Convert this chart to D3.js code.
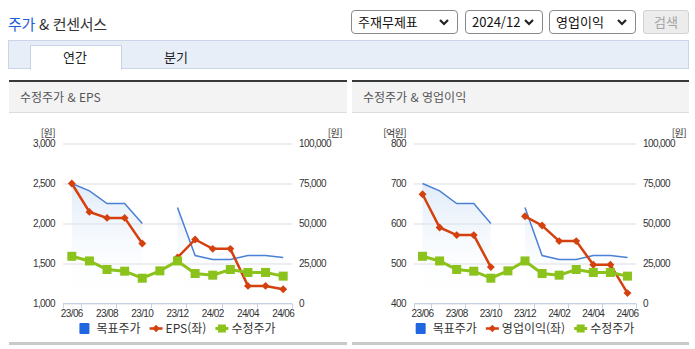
<!DOCTYPE html>
<html lang="ko">
<head>
<meta charset="utf-8">
<script src="https://cdn.jsdelivr.net/npm/d3@7"></script>
<style>
  html, body { margin: 0; padding: 0; background: #fff; }
  body { width: 695px; height: 349px; position: relative; overflow: hidden;
         font-family: "Noto Sans CJK KR", "Noto Sans", sans-serif; color: #333; }
  .abs { position: absolute; }
  .title { left: 8px; top: 13px; font-size: 15px; line-height: 22px; color: #333; letter-spacing: -0.3px; }
  .title .hl { color: #1f5fd6; }
  .sel { top: 10px; height: 22px; border: 1px solid #8a8a8a; border-radius: 4px; background: #fff;
         font-size: 13px; line-height: 22px; color: #111; box-sizing: content-box; }
  .sel span { position: absolute; left: 6px; top: 0; }
  .sel svg { position: absolute; right: 8px; top: 8px; }
  .btn { top: 10px; height: 22px; border: 1px solid #d2d2d2; border-radius: 3px; background: #ececec;
         font-size: 13px; line-height: 22px; color: #a5a5a5; text-align: center; }
  .tabbar { left: 8px; top: 40px; width: 679px; height: 27px; background: #e8eef8; border: 1px solid #cad6e8; }
  .tab { top: 45px; height: 24px; background: #fff; border: 1px solid #cad6e8; border-bottom: none;
         left: 30px; width: 90px; }
  .tabtxt { font-size: 13px; line-height: 20px; color: #222; transform: translateX(-50%); }
  svg text { font-family: "Liberation Sans", Arial, sans-serif; }
</style>
</head>
<body>
<div class="abs title"><span class="hl">주가</span> &amp; 컨센서스</div>

<div class="abs sel" style="left:351px;width:105px"><span>주재무제표</span>
  <svg width="10" height="7"><path d="M1,1 L5,5 L9,1" fill="none" stroke="#222" stroke-width="2.2"/></svg></div>
<div class="abs sel" style="left:465px;width:76px"><span>2024/12</span>
  <svg width="10" height="7"><path d="M1,1 L5,5 L9,1" fill="none" stroke="#222" stroke-width="2.2"/></svg></div>
<div class="abs sel" style="left:549px;width:85px"><span>영업이익</span>
  <svg width="10" height="7"><path d="M1,1 L5,5 L9,1" fill="none" stroke="#222" stroke-width="2.2"/></svg></div>
<div class="abs btn" style="left:643px;width:44px">검색</div>

<div class="abs tabbar"></div>
<div class="abs tab"></div>
<div class="abs tabtxt" style="left:75px;top:47px">연간</div>
<div class="abs tabtxt" style="left:176px;top:47px">분기</div>

<svg id="charts" class="abs" style="left:0;top:0" width="695" height="349"></svg>

<script>
// Monthly categories on the x axis
const months = ["23/06", "23/07", "23/08", "23/09", "23/10", "23/11", "23/12",
                "24/01", "24/02", "24/03", "24/04", "24/05", "24/06"];

// 목표주가 (target price, 원) — right axis
const targetPrice = [75000, 70400, 62500, 62500, 50000, null, 60000,
                     30000, 27500, 27500, 30000, 30000, 28750];

// 수정주가 (adjusted share price, 원) — right axis
const adjPrice = [29500, 26600, 21250, 20200, 15800, 20400, 26600,
                  18750, 17700, 21250, 19400, 19400, 17100];

// EPS (원) — left axis of the first chart
const eps = [2500, 2145, 2070, 2070, 1750, null, 1575,
             1800, 1683, 1683, 1220, 1220, 1179];

// 영업이익 (operating profit, 억원) — left axis of the second chart
const opProfit = [673, 590, 571, 571, 491, null, 618,
                  595, 556, 556, 497, 497, 426];

// Axis tick values
const epsTicks = [1000, 1500, 2000, 2500, 3000];
const opTicks = [400, 500, 600, 700, 800];
const priceTicks = [0, 25000, 50000, 75000, 100000];

const C = {
  target: "#4a80d6", targetLegend: "#1f66e0",
  red: "#d4400e", green: "#8cc21c",
  grid: "#dddddd", axis: "#c4d2e4", text: "#333"
};

const svg = d3.select("#charts");
const defs = svg.append("defs");
const grad = defs.append("linearGradient").attr("id", "areaFade")
  .attr("x1", 0).attr("y1", 0).attr("x2", 0).attr("y2", 1);
grad.append("stop").attr("offset", "0%").attr("stop-color", "#b9d3f2").attr("stop-opacity", 0.45);
grad.append("stop").attr("offset", "100%").attr("stop-color", "#ffffff").attr("stop-opacity", 0);

function panel(x0, x1, title) {
  const g = svg.append("g");
  g.append("rect").attr("x", x0).attr("y", 82).attr("width", x1 - x0).attr("height", 30).attr("fill", "#f3f3f3");
  g.append("rect").attr("x", x0).attr("y", 80).attr("width", x1 - x0).attr("height", 2).attr("fill", "#383838");
  g.append("rect").attr("x", x0).attr("y", 112).attr("width", x1 - x0).attr("height", 1).attr("fill", "#dcdcdc");
  g.append("rect").attr("x", x0).attr("y", 342).attr("width", x1 - x0).attr("height", 3).attr("fill", "#c9c9c9");
  g.append("text").attr("x", x0 + 11).attr("y", 101.5)
    .style("font-family", "'Noto Sans CJK KR', sans-serif").style("font-size", "12px")
    .attr("fill", "#555").text(title);
}

function chart(cfg) {
  const top = 143.5, bottom = 303.5;
  const g = svg.append("g");

  const x = d3.scaleBand().domain(months).range([cfg.left, cfg.right]).padding(0);
  const cx = (m) => x(m) + x.bandwidth() / 2;
  const yL = d3.scaleLinear().domain(cfg.leftDomain).range([bottom, top]);
  const yR = d3.scaleLinear().domain([0, 100000]).range([bottom, top]);

  // left axis with gridlines
  const axL = g.append("g").attr("transform", `translate(${cfg.left},0)`)
    .call(d3.axisLeft(yL).tickValues(cfg.leftTicks).tickFormat(d3.format(","))
      .tickSize(-(cfg.right - cfg.left)).tickPadding(8));
  axL.select(".domain").remove();
  axL.selectAll("line").attr("stroke", C.grid);
  axL.selectAll("text").attr("fill", C.text).style("font-size", "10px").style("letter-spacing", "-0.6px");

  // right axis
  const axR = g.append("g").attr("transform", `translate(${cfg.right},0)`)
    .call(d3.axisRight(yR).tickValues(priceTicks).tickFormat(d3.format(",")).tickSize(0).tickPadding(7));
  axR.select(".domain").remove();
  axR.selectAll("text").attr("fill", C.text).style("font-size", "10px").style("letter-spacing", "-0.6px");

  // unit labels
  g.append("text").attr("x", cfg.left - 8).attr("y", 136.5).attr("text-anchor", "end")
    .style("font-family", "'Noto Sans CJK KR', sans-serif").style("font-size", "10px")
    .style("letter-spacing", "-0.6px").attr("fill", C.text).text(cfg.leftUnit);
  g.append("text").attr("x", cfg.right + 50).attr("y", 136.5).attr("text-anchor", "end")
    .style("font-family", "'Noto Sans CJK KR', sans-serif").style("font-size", "10px")
    .style("letter-spacing", "-0.6px").attr("fill", C.text).text("[원]");

  // x axis line, tick marks and labels
  g.append("line").attr("x1", cfg.left).attr("x2", cfg.right).attr("y1", bottom).attr("y2", bottom)
    .attr("stroke", C.axis);
  const tickXs = [cfg.left, cfg.right].concat(months.filter((m, i) => i % 2 === 0 && i < months.length - 1)
    .map(m => x(m) + x.bandwidth()));
  g.selectAll(".xt").data(tickXs).join("line")
    .attr("x1", d => Math.round(d) + 0.5).attr("x2", d => Math.round(d) + 0.5)
    .attr("y1", bottom).attr("y2", bottom + 5).attr("stroke", C.axis);
  g.selectAll(".xl").data(months.filter((m, i) => i % 2 === 0)).join("text")
    .attr("x", d => cx(d)).attr("y", bottom + 13).attr("text-anchor", "middle")
    .attr("fill", C.text).style("font-size", "10px").style("letter-spacing", "-0.6px").text(d => d);

  // 목표주가 area + line
  const tp = months.map((m, i) => ({ m, v: targetPrice[i] }));
  g.append("path").datum(tp)
    .attr("d", d3.area().defined(d => d.v != null).x(d => cx(d.m)).y0(bottom).y1(d => yR(d.v)))
    .attr("fill", "url(#areaFade)");
  g.append("path").datum(tp)
    .attr("d", d3.line().defined(d => d.v != null).x(d => cx(d.m)).y(d => yR(d.v)))
    .attr("fill", "none").attr("stroke", C.target).attr("stroke-width", 1.5);

  // left-axis series (red, diamonds)
  const ls = months.map((m, i) => ({ m, v: cfg.leftData[i] }));
  g.append("path").datum(ls)
    .attr("d", d3.line().defined(d => d.v != null).x(d => cx(d.m)).y(d => yL(d.v)))
    .attr("fill", "none").attr("stroke", C.red).attr("stroke-width", 2.5);
  g.selectAll(".dm").data(ls.filter(d => d.v != null)).join("path")
    .attr("d", d3.symbol().type(d3.symbolDiamond2).size(40))
    .attr("transform", d => `translate(${cx(d.m)},${yL(d.v)})`)
    .attr("fill", C.red);

  // 수정주가 (green, squares)
  const ap = months.map((m, i) => ({ m, v: adjPrice[i] }));
  g.append("path").datum(ap)
    .attr("d", d3.line().defined(d => d.v != null).x(d => cx(d.m)).y(d => yR(d.v)))
    .attr("fill", "none").attr("stroke", C.green).attr("stroke-width", 3);
  g.selectAll(".sq").data(ap).join("rect")
    .attr("x", d => cx(d.m) - 4.5).attr("y", d => yR(d.v) - 4.5)
    .attr("width", 9).attr("height", 9).attr("fill", C.green);

  // legend
  const lg = g.append("g");
  const items = [
    { kind: "box", label: "목표주가", color: C.targetLegend },
    { kind: "diamond", label: cfg.leftName, color: C.red },
    { kind: "square", label: "수정주가", color: C.green }
  ];
  let pos = 0;
  const ly = 328.5;
  items.forEach((it) => {
    const ig = lg.append("g").attr("transform", `translate(${pos},0)`);
    let sw;
    if (it.kind === "box") {
      ig.append("rect").attr("x", 0).attr("y", ly - 5.5).attr("width", 10).attr("height", 11)
        .attr("rx", 1).attr("fill", it.color);
      sw = 10 + 7;
    } else {
      ig.append("line").attr("x1", 0).attr("x2", 13).attr("y1", ly).attr("y2", ly)
        .attr("stroke", it.color).attr("stroke-width", it.kind === "square" ? 3 : 2.5);
      if (it.kind === "diamond") {
        ig.append("path").attr("d", d3.symbol().type(d3.symbolDiamond2).size(34))
          .attr("transform", `translate(6.5,${ly})`).attr("fill", it.color);
      } else {
        ig.append("rect").attr("x", 2.5).attr("y", ly - 4).attr("width", 8).attr("height", 8).attr("fill", it.color);
      }
      sw = 13 + 3;
    }
    const t = ig.append("text").attr("x", sw).attr("y", ly + 4.5)
      .style("font-family", "'Noto Sans CJK KR', sans-serif").style("font-size", "12px")
      .attr("fill", C.text).text(it.label);
    pos += sw + t.node().getComputedTextLength() + 9;
  });
  const total = pos - 9;
  lg.attr("transform", `translate(${(cfg.left + cfg.right) / 2 - total / 2},0)`);
}

panel(9, 347, "수정주가 & EPS");
panel(352, 689, "수정주가 & 영업이익");

chart({ left: 63, right: 292, leftDomain: [1000, 3000], leftTicks: epsTicks,
        leftData: eps, leftUnit: "[원]", leftName: "EPS(좌)" });
chart({ left: 414, right: 636, leftDomain: [400, 800], leftTicks: opTicks,
        leftData: opProfit, leftUnit: "[억원]", leftName: "영업이익(좌)" });
</script>
</body>
</html>
